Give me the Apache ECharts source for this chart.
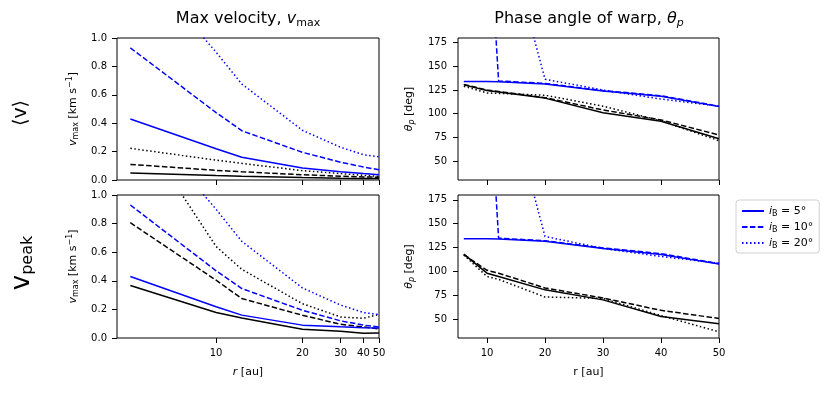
<!DOCTYPE html>
<html>
<head>
<meta charset="utf-8">
<script src="https://cdn.jsdelivr.net/npm/echarts@6/dist/echarts.min.js"></script>
<style>
  html, body { margin: 0; padding: 0; background: #fff; }
  #chart { width: 831px; height: 395px; }
</style>
</head>
<body>
<div id="chart"></div>
<script>
// radii of the model rings [au]
var radii = [6, 10, 12, 20, 30, 40, 50];
var rTicks = [10, 20, 30, 40, 50];
var thetaTicks = [50, 75, 100, 125, 150, 175];
var vTicks = [0, 0.2, 0.4, 0.6, 0.8, 1.0];
var legendLabels = ['5°', '10°', '20°'];

// <v> row : max velocity [km/s]
var avgVBlue5 = [0.43, 0.22, 0.16, 0.085, 0.058, 0.045, 0.037];
var avgVBlue10 = [0.93, 0.475, 0.347, 0.195, 0.125, 0.092, 0.072];
var avgVBlue20 = [1.6, 0.9, 0.676, 0.35, 0.23, 0.178, 0.164];
var avgVBlack5 = [0.05, 0.032, 0.027, 0.018, 0.013, 0.011, 0.01];
var avgVBlack10 = [0.11, 0.068, 0.058, 0.037, 0.027, 0.022, 0.019];
var avgVBlack20 = [0.223, 0.14, 0.117, 0.066, 0.045, 0.033, 0.025];

// <v> row : phase angle [deg]
var avgThBlue5 = [134, 134, 133.8, 131.5, 124, 118.5, 107.5];
var avgThBlue10 = [340, 336, 134.7, 132, 124.5, 119, 108];
var avgThBlue20 = [330, 325, 320, 136.5, 125, 115.5, 108];
var avgThBlack5 = [130.5, 124.5, 123, 116.5, 101, 92, 73.5];
var avgThBlack10 = [131, 125, 123.5, 117, 104, 93.5, 77.5];
var avgThBlack20 = [129, 122, 121.5, 119.5, 108, 92.5, 71.5];

// v_peak row : max velocity [km/s]
var peakVBlue5 = [0.43, 0.218, 0.16, 0.09, 0.078, 0.072, 0.07];
var peakVBlue10 = [0.93, 0.47, 0.346, 0.194, 0.12, 0.09, 0.077];
var peakVBlue20 = [1.6, 0.9, 0.676, 0.35, 0.23, 0.178, 0.164];
var peakVBlack5 = [0.367, 0.178, 0.14, 0.061, 0.047, 0.033, 0.035];
var peakVBlack10 = [0.806, 0.404, 0.276, 0.159, 0.096, 0.077, 0.063];
var peakVBlack20 = [1.55, 0.64, 0.48, 0.24, 0.147, 0.138, 0.165];

// v_peak row : phase angle [deg]
var peakThBlue5 = [134, 134, 133.8, 131.5, 124, 117.5, 107.5];
var peakThBlue10 = [340, 336, 134.7, 132, 124.5, 118.5, 108];
var peakThBlue20 = [330, 325, 320, 136.5, 124, 115.5, 108.5];
var peakThBlack5 = [118, 98, 94.5, 80.5, 70, 52.5, 45];
var peakThBlack10 = [117.5, 101, 98, 82.5, 72, 59, 50.5];
var peakThBlack20 = [117, 94.5, 91.5, 73, 71.5, 53.5, 36.5];

var FONT = '"DejaVu Sans", Verdana, sans-serif';
var BLUE = '#0000ff';
var dashes = { solid: 'solid', dashed: [5.5, 2.4], dotted: [1.5, 2.5] };

// the velocity panels use an r^(-1/2) axis
function sq(r) { return -1 / Math.sqrt(r); }

var chart = echarts.init(document.getElementById('chart'));

var grids = [
    { left: 117, top: 38, width: 262, height: 142 },
    { left: 458, top: 38, width: 261, height: 142 },
    { left: 117, top: 195, width: 262, height: 143 },
    { left: 458, top: 195, width: 261, height: 143 }
].map(function (g) {
    return Object.assign({ show: true, borderColor: '#000', borderWidth: 1, backgroundColor: 'transparent' }, g);
});

var labelStyle = { color: '#000', fontSize: 10, fontFamily: FONT };
var nameRich = {
    i: { fontStyle: 'italic', fontSize: 11, fontFamily: FONT, lineHeight: 14 },
    sub: { fontSize: 8, fontFamily: FONT, verticalAlign: 'bottom', lineHeight: 8 },
    isub: { fontSize: 8, fontStyle: 'italic', fontFamily: FONT, verticalAlign: 'bottom', lineHeight: 8 },
    sup: { fontSize: 8, fontFamily: FONT, verticalAlign: 'top', lineHeight: 8 }
};
var nameStyle = { color: '#000', fontSize: 11, fontFamily: FONT, lineHeight: 14, rich: nameRich };

function tick(vals) {
    return { show: true, inside: false, length: 5, customValues: vals, lineStyle: { color: '#000', width: 1 } };
}

function leftX(idx, showLabels) {
    var vals = rTicks.map(sq);
    return {
        gridIndex: idx, type: 'value', min: sq(5.6), max: sq(50),
        axisLine: { show: false }, splitLine: { show: false },
        axisTick: tick(vals),
        axisLabel: Object.assign({
            show: showLabels, customValues: vals, margin: 10,
            formatter: function (v) { return String(Math.round(1 / (v * v))); }
        }, labelStyle),
        name: showLabels ? '{i|r} [au]' : '', nameLocation: 'middle', nameGap: 27,
        nameTextStyle: nameStyle
    };
}

function rightX(idx, showLabels) {
    return {
        gridIndex: idx, type: 'value', min: 5, max: 50,
        axisLine: { show: false }, splitLine: { show: false },
        axisTick: tick(rTicks),
        axisLabel: Object.assign({ show: showLabels, customValues: rTicks, margin: 10 }, labelStyle),
        name: showLabels ? 'r [au]' : '', nameLocation: 'middle', nameGap: 27,
        nameTextStyle: nameStyle
    };
}

function velY(idx) {
    return {
        gridIndex: idx, type: 'value', min: 0, max: 1,
        axisLine: { show: false }, splitLine: { show: false },
        axisTick: tick(vTicks),
        axisLabel: Object.assign({
            customValues: vTicks, margin: 10,
            formatter: function (v) { return v.toFixed(1); }
        }, labelStyle),
        name: '{i|v}{sub|max} [km s{sup|−1}]', nameLocation: 'middle', nameRotate: 90, nameGap: 37,
        nameTextStyle: nameStyle
    };
}

function thetaY(idx) {
    return {
        gridIndex: idx, type: 'value', min: 30, max: 180,
        axisLine: { show: false }, splitLine: { show: false },
        axisTick: tick(thetaTicks),
        axisLabel: Object.assign({ customValues: thetaTicks, margin: 11 }, labelStyle),
        name: '{i|θ}{isub|p} [deg]', nameLocation: 'middle', nameRotate: 90, nameGap: 42,
        nameTextStyle: nameStyle
    };
}

var series = [];
function addLine(name, xs, ys, color, dash, idx) {
    series.push({
        name: name, type: 'line', xAxisIndex: idx, yAxisIndex: idx,
        data: xs.map(function (x, k) { return [x, ys[k]]; }),
        showSymbol: false, symbol: 'none', clip: true, silent: true,
        lineStyle: { color: color, width: 1.5, type: dashes[dash], cap: 'butt' },
        itemStyle: { color: color }
    });
}

var blueNames = ['i_B = 5°', 'i_B = 10°', 'i_B = 20°'];
var sqRadii = radii.map(sq);

// top-left : <v>, max velocity
addLine('avg black 5', sqRadii, avgVBlack5, '#000', 'solid', 0);
addLine('avg black 10', sqRadii, avgVBlack10, '#000', 'dashed', 0);
addLine('avg black 20', sqRadii, avgVBlack20, '#000', 'dotted', 0);
addLine(blueNames[0], sqRadii, avgVBlue5, BLUE, 'solid', 0);
addLine(blueNames[1], sqRadii, avgVBlue10, BLUE, 'dashed', 0);
addLine(blueNames[2], sqRadii, avgVBlue20, BLUE, 'dotted', 0);

// top-right : <v>, phase angle
addLine('avg th black 5', radii, avgThBlack5, '#000', 'solid', 1);
addLine('avg th black 10', radii, avgThBlack10, '#000', 'dashed', 1);
addLine('avg th black 20', radii, avgThBlack20, '#000', 'dotted', 1);
addLine(blueNames[0], radii, avgThBlue5, BLUE, 'solid', 1);
addLine(blueNames[1], radii, avgThBlue10, BLUE, 'dashed', 1);
addLine(blueNames[2], radii, avgThBlue20, BLUE, 'dotted', 1);

// bottom-left : v_peak, max velocity
addLine('peak black 5', sqRadii, peakVBlack5, '#000', 'solid', 2);
addLine('peak black 10', sqRadii, peakVBlack10, '#000', 'dashed', 2);
addLine('peak black 20', sqRadii, peakVBlack20, '#000', 'dotted', 2);
addLine(blueNames[0], sqRadii, peakVBlue5, BLUE, 'solid', 2);
addLine(blueNames[1], sqRadii, peakVBlue10, BLUE, 'dashed', 2);
addLine(blueNames[2], sqRadii, peakVBlue20, BLUE, 'dotted', 2);

// bottom-right : v_peak, phase angle
addLine('peak th black 5', radii, peakThBlack5, '#000', 'solid', 3);
addLine('peak th black 10', radii, peakThBlack10, '#000', 'dashed', 3);
addLine('peak th black 20', radii, peakThBlack20, '#000', 'dotted', 3);
addLine(blueNames[0], radii, peakThBlue5, BLUE, 'solid', 3);
addLine(blueNames[1], radii, peakThBlue10, BLUE, 'dashed', 3);
addLine(blueNames[2], radii, peakThBlue20, BLUE, 'dotted', 3);

var titleRich = {
    i: { fontStyle: 'italic', fontSize: 16, fontFamily: FONT, lineHeight: 20 },
    sub: { fontSize: 11, fontFamily: FONT, verticalAlign: 'bottom', lineHeight: 11 },
    isub: { fontSize: 11, fontStyle: 'italic', fontFamily: FONT, verticalAlign: 'bottom', lineHeight: 11 }
};
var titleStyle = { color: '#000', fontSize: 16, fontWeight: 'normal', fontFamily: FONT, lineHeight: 20, rich: titleRich };

var option = {
    animation: false,
    backgroundColor: '#fff',
    title: [
        { text: 'Max velocity, {i|v}{sub|max}', left: 248, top: 9, textAlign: 'center', padding: 0, textStyle: titleStyle },
        { text: 'Phase angle of warp, {i|θ}{isub|p}', left: 589, top: 9, textAlign: 'center', padding: 0, textStyle: titleStyle }
    ],
    grid: grids,
    xAxis: [leftX(0, false), rightX(1, false), leftX(2, true), rightX(3, true)],
    yAxis: [velY(0), thetaY(1), velY(2), thetaY(3)],
    legend: {
        data: blueNames, orient: 'vertical', left: 736, top: 200,
        itemWidth: 22, itemHeight: 10, itemGap: 2,
        padding: [4, 6, 3, 5],
        borderColor: '#d0d0d0', borderWidth: 1, borderRadius: 3, backgroundColor: '#fff',
        selectedMode: false,
        itemStyle: { opacity: 0, color: 'transparent', borderWidth: 0 },
        formatter: function (name) {
            return '{i|i}{s|B} = ' + legendLabels[blueNames.indexOf(name)];
        },
        textStyle: {
            color: '#000', fontSize: 11, fontFamily: FONT, lineHeight: 14,
            rich: {
                i: { fontStyle: 'italic', fontSize: 11, fontFamily: FONT, lineHeight: 14 },
                s: { fontSize: 8, fontFamily: FONT, verticalAlign: 'bottom', lineHeight: 8 }
            }
        }
    },
    graphic: [
        {
            type: 'text', x: 21, y: 113, rotation: Math.PI / 2,
            style: {
                text: '⟨v⟩', fill: '#000', font: '19px ' + FONT,
                textAlign: 'center', textVerticalAlign: 'middle'
            }
        },
        {
            type: 'text', x: 22, y: 263, rotation: Math.PI / 2,
            style: {
                text: '{v|v}{s|peak}', fill: '#000', font: '26px ' + FONT,
                textAlign: 'center', textVerticalAlign: 'middle',
                rich: {
                    v: { fontSize: 26, fontFamily: FONT, lineHeight: 28 },
                    s: { fontSize: 16, fontFamily: FONT, verticalAlign: 'bottom', lineHeight: 16 }
                }
            }
        }
    ],
    series: series
};

chart.setOption(option);
</script>
</body>
</html>
